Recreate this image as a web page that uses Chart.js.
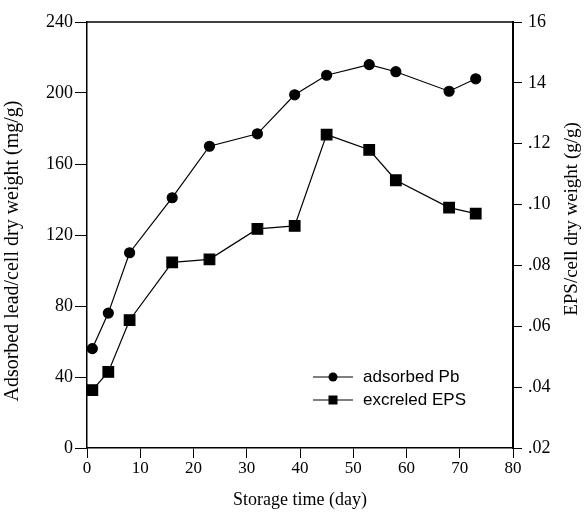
<!DOCTYPE html>
<html>
<head>
<meta charset="utf-8">
<script src="https://cdn.jsdelivr.net/npm/chart.js@4/dist/chart.umd.min.js"></script>
<style>
  html, body { margin: 0; padding: 0; background: #fff; }
  #wrap { width: 584px; height: 521px; }
</style>
</head>
<body>
<div id="wrap"><canvas id="chartPb"></canvas></div>
<script>
// ── Data ────────────────────────────────────────────
const days = [1, 4, 8, 16, 23, 32, 39, 45, 53, 58, 68, 73];
const adsorbedPb = [56, 76, 110, 141, 170, 177, 199, 210, 216, 212, 201, 208];   // mg/g
const excretedEPS = [0.039, 0.045, 0.062, 0.081, 0.082, 0.092, 0.093, 0.123, 0.118, 0.108, 0.099, 0.097]; // g/g
const rightTickLabels = ['.02', '.04', '.06', '.08', '.10', '.12', '14', '16'];
const legendLabels = ['adsorbed Pb', 'excreled EPS'];

const toPoints = (xs, ys) => xs.map((x, i) => ({ x: x, y: ys[i] }));

// ── Plugin : cadre haut, titres verticaux, légende ──
const decor = {
  id: 'decor',
  afterDraw(chart) {
    const { ctx, chartArea: a } = chart;
    ctx.save();
    // top border
    ctx.strokeStyle = '#000';
    ctx.lineWidth = 1.5;
    ctx.beginPath();
    ctx.moveTo(a.left, a.top);
    ctx.lineTo(a.right, a.top);
    ctx.stroke();

    // vertical titles (both read bottom → top)
    ctx.fillStyle = '#000';
    ctx.textAlign = 'center';
    ctx.textBaseline = 'middle';
    ctx.font = '20px "Liberation Serif"';
    ctx.save();
    ctx.translate(13, 251);
    ctx.rotate(-Math.PI / 2);
    ctx.fillText('Adsorbed lead/cell dry weight (mg/g)', 0, 0);
    ctx.restore();
    ctx.font = '19px "Liberation Serif"';
    ctx.save();
    ctx.translate(572, 219);
    ctx.rotate(-Math.PI / 2);
    ctx.fillText('EPS/cell dry weight (g/g)', 0, 0);
    ctx.restore();

    // legend
    const rows = [377, 400];
    ctx.font = '17px "Liberation Sans"';
    ctx.textAlign = 'left';
    rows.forEach((y, i) => {
      ctx.lineWidth = 1.2;
      ctx.beginPath();
      ctx.moveTo(313, y);
      ctx.lineTo(353, y);
      ctx.stroke();
      ctx.beginPath();
      if (i === 0) ctx.arc(333, y, 4.5, 0, Math.PI * 2);
      else ctx.rect(328.5, y - 4.5, 9, 9);
      ctx.fill();
      ctx.fillText(legendLabels[i], 363, y);
    });
    ctx.restore();
  }
};

const axisFont = { family: 'Liberation Serif', size: 18 };

new Chart(document.getElementById('chartPb'), {
  type: 'line',
  data: {
    datasets: [{
      label: legendLabels[0],
      data: toPoints(days, adsorbedPb),
      yAxisID: 'y',
      borderColor: '#000',
      backgroundColor: '#000',
      borderWidth: 1.2,
      pointStyle: 'circle',
      pointRadius: 5,
      tension: 0
    }, {
      label: legendLabels[1],
      data: toPoints(days, excretedEPS),
      yAxisID: 'y1',
      borderColor: '#000',
      backgroundColor: '#000',
      borderWidth: 1.2,
      pointStyle: 'rect',
      pointRadius: 7.5,
      tension: 0
    }]
  },
  options: {
    responsive: true,
    maintainAspectRatio: false,
    animation: false,
    layout: { padding: { top: 22, left: 0, right: 0, bottom: 0 } },
    plugins: { legend: { display: false }, tooltip: { enabled: false } },
    scales: {
      x: {
        type: 'linear',
        min: 0, max: 80,
        afterFit: s => { s.height = 73; },
        border: { color: '#000', width: 1.5 },
        grid: { drawOnChartArea: false, drawTicks: true, tickLength: 10, color: '#000' },
        ticks: { stepSize: 10, color: '#000', font: { ...axisFont, size: 17 }, padding: 0, maxRotation: 0 },
        title: {
          display: true, text: 'Storage time (day)', color: '#000',
          font: { family: 'Liberation Serif', size: 18 }, padding: { top: 0, bottom: 10 }
        }
      },
      y: {
        position: 'left',
        min: 0, max: 240,
        afterFit: s => { s.width = 87; },
        border: { color: '#000', width: 1.5 },
        grid: { drawOnChartArea: false, drawTicks: true, tickLength: 12, color: '#000' },
        ticks: { stepSize: 40, color: '#000', font: axisFont, padding: 2 }
      },
      y1: {
        position: 'right',
        min: 0.02, max: 0.16,
        afterFit: s => { s.width = 71; },
        border: { color: '#000', width: 2 },
        grid: { drawOnChartArea: false, drawTicks: true, tickLength: 9, color: '#000' },
        ticks: {
          stepSize: 0.02, color: '#000', font: axisFont, padding: 6,
          callback: (v, i) => rightTickLabels[i]
        }
      }
    }
  },
  plugins: [decor]
});
</script>
</body>
</html>
